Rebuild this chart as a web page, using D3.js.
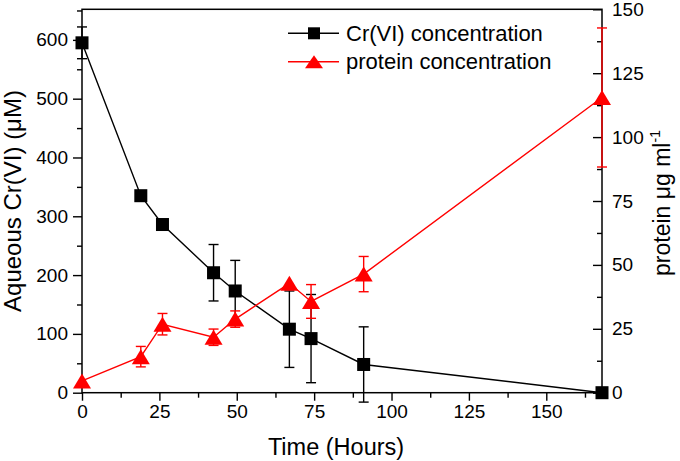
<!DOCTYPE html>
<html>
<head>
<meta charset="utf-8">
<script src="https://cdn.jsdelivr.net/npm/d3@7"></script>
<style>
  html, body { margin: 0; padding: 0; background: #fff; }
  svg { display: block; font-family: "Liberation Sans", Arial, Helvetica, sans-serif; }
</style>
</head>
<body>
<svg id="chart" width="680" height="461"></svg>
<script>
// ---- data ----
const timeHours = [0, 19, 26, 42.5, 49.5, 67, 74, 91, 168];
const crConc = [595, 335, 286, 204, 173, 108, 92, 48, 0];
const crErr = [27, 0, 0, 48, 52, 65, 75, 64, 0];
const proteinConc = [4.6, 14.1, 26.8, 21.7, 28.8, 42.8, 35.7, 46.4, 115.5];
const proteinErr = [0, 4, 4.2, 3.2, 3.2, 0, 6.6, 6.9, 27.2];
const xTicks = [0, 25, 50, 75, 100, 125, 150];
const xMinorTicks = [12.5, 37.5, 62.5, 87.5, 112.5, 137.5, 162.5];
const leftTicks = [0, 100, 200, 300, 400, 500, 600];
const leftMinorTicks = [50, 150, 250, 350, 450, 550, 650];
const rightTicks = [0, 25, 50, 75, 100, 125, 150];
const rightMinorTicks = [12.5, 37.5, 62.5, 87.5, 112.5, 137.5];
const seriesNames = ["Cr(VI) concentration", "protein concentration"];

const RED = "#ff0000";
const svg = d3.select("#chart");
const L = 82, R = 602, T = 9.3, B = 392.7;

const x = d3.scaleLinear().domain([0, 168]).range([L, R]);
const yL = d3.scaleLinear().domain([0, 652]).range([B, T]);
const yR = d3.scaleLinear().domain([0, 150]).range([B, T]);

// ---- axes ----
function styleAxis(g, fs) {
  g.select(".domain").remove();
  g.selectAll(".tick line").attr("stroke", "#000").attr("stroke-width", 1.4);
  g.selectAll(".tick text").attr("fill", "#000").style("font-size", fs + "px")
    .style("font-family", '"Liberation Sans", Arial, sans-serif');
}

// bottom
svg.append("g").attr("transform", `translate(0,${B})`)
  .call(d3.axisBottom(x).tickValues(xTicks).tickSize(8).tickPadding(4).tickFormat(d3.format("d")))
  .call(g => styleAxis(g, 19));
svg.append("g").attr("transform", `translate(0,${B})`)
  .call(d3.axisBottom(x).tickValues(xMinorTicks).tickSize(5).tickFormat(""))
  .call(g => styleAxis(g, 19));

// left
svg.append("g").attr("transform", `translate(${L},0)`)
  .call(d3.axisLeft(yL).tickValues(leftTicks).tickSize(9).tickPadding(5).tickFormat(d3.format("d")))
  .call(g => styleAxis(g, 19));
svg.append("g").attr("transform", `translate(${L},0)`)
  .call(d3.axisLeft(yL).tickValues(leftMinorTicks.filter(v => v <= 652)).tickSize(5).tickFormat(""))
  .call(g => styleAxis(g, 19));

// right (ticks inward)
svg.append("g").attr("transform", `translate(${R},0)`)
  .call(d3.axisRight(yR).tickValues(rightTicks).tickSize(-9).tickPadding(10).tickFormat(d3.format("d")))
  .call(g => styleAxis(g, 19));
svg.append("g").attr("transform", `translate(${R},0)`)
  .call(d3.axisRight(yR).tickValues(rightMinorTicks).tickSize(-5).tickFormat(""))
  .call(g => styleAxis(g, 19));

// frame
svg.append("rect").attr("x", L).attr("y", T).attr("width", R - L).attr("height", B - T)
  .attr("fill", "none").attr("stroke", "#000").attr("stroke-width", 1.5);

// ---- axis titles ----
svg.append("text").attr("transform", `translate(21,${(T + B) / 2}) rotate(-90)`)
  .attr("text-anchor", "middle").style("font-size", "24px").attr("fill", "#000")
  .text("Aqueous Cr(VI) (\u03BCM)");
svg.append("text").attr("x", 336).attr("y", 455)
  .attr("text-anchor", "middle").style("font-size", "23.5px").attr("fill", "#000")
  .text("Time (Hours)");
const rt = svg.append("text").attr("transform", `translate(670,${(T + B) / 2 + 2}) rotate(-90)`)
  .attr("text-anchor", "middle").style("font-size", "23px").attr("fill", "#000");
rt.append("tspan").text("protein \u03BCg ml");
rt.append("tspan").attr("dy", -10).style("font-size", "14px").text("-1");

// ---- helpers ----
function errorBars(vals, errs, yScale, color) {
  const g = svg.append("g").attr("stroke", color).attr("stroke-width", 1.4).attr("fill", "none");
  timeHours.forEach((t, i) => {
    if (!errs[i]) return;
    const cx = x(t), y1 = yScale(vals[i] - errs[i]), y2 = yScale(vals[i] + errs[i]);
    g.append("line").attr("x1", cx).attr("x2", cx).attr("y1", y1).attr("y2", y2);
    g.append("line").attr("x1", cx - 5).attr("x2", cx + 5).attr("y1", y1).attr("y2", y1);
    g.append("line").attr("x1", cx - 5).attr("x2", cx + 5).attr("y1", y2).attr("y2", y2);
  });
}
function triPath(cx, cy, w, h) {
  return `M${cx - w / 2},${cy + h / 2}L${cx + w / 2},${cy + h / 2}L${cx},${cy - h / 2}Z`;
}

// ---- Cr(VI) series ----
errorBars(crConc, crErr, yL, "#000");
svg.append("path").datum(timeHours.map((t, i) => [t, crConc[i]]))
  .attr("fill", "none").attr("stroke", "#000").attr("stroke-width", 1.4)
  .attr("d", d3.line().x(d => x(d[0])).y(d => yL(d[1])));
svg.append("g").selectAll("rect").data(timeHours.map((t, i) => [t, crConc[i]])).join("rect")
  .attr("x", d => x(d[0]) - 6.5).attr("y", d => yL(d[1]) - 6.5)
  .attr("width", 13).attr("height", 13).attr("fill", "#000");

// ---- protein series ----
errorBars(proteinConc, proteinErr, yR, RED);
svg.append("path").datum(timeHours.map((t, i) => [t, proteinConc[i]]))
  .attr("fill", "none").attr("stroke", RED).attr("stroke-width", 1.4)
  .attr("d", d3.line().x(d => x(d[0])).y(d => yR(d[1])));
svg.append("g").selectAll("path").data(timeHours.map((t, i) => [t, proteinConc[i]])).join("path")
  .attr("d", d => triPath(x(d[0]), yR(d[1]), 18, 15)).attr("fill", RED);

// ---- legend ----
const leg = svg.append("g");
const rows = [33.3, 61.7];
seriesNames.forEach((name, i) => {
  const color = i === 0 ? "#000" : RED;
  const ry = rows[i];
  leg.append("line").attr("x1", 288).attr("x2", 339).attr("y1", ry).attr("y2", ry)
    .attr("stroke", color).attr("stroke-width", 1.4);
  if (i === 0) {
    leg.append("rect").attr("x", 314 - 6).attr("y", ry - 6).attr("width", 12).attr("height", 12).attr("fill", color);
  } else {
    leg.append("path").attr("d", triPath(314, ry, 18, 13)).attr("fill", color);
  }
  leg.append("text").attr("x", 346).attr("y", ry + 7.5).style("font-size", "22px").attr("fill", "#000").text(name);
});
</script>
</body>
</html>
